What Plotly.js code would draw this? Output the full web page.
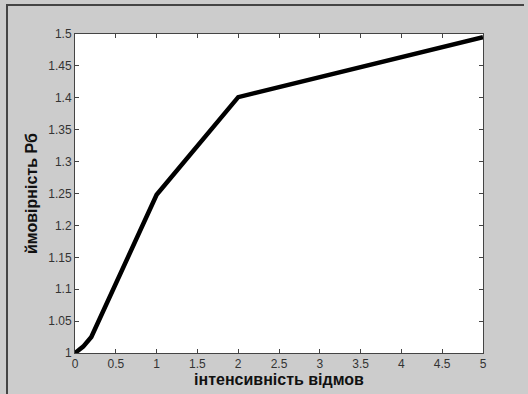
<!DOCTYPE html>
<html>
<head>
<meta charset="utf-8">
<script src="https://cdn.plot.ly/plotly-3.0.1.min.js"></script>
<style>
html,body{margin:0;padding:0;background:#cccccc;overflow:hidden;}
#wrap{position:relative;width:528px;height:394px;overflow:hidden;}
#chart{position:absolute;left:0;top:0;width:528px;height:394px;}
#vline{position:absolute;left:6px;top:4px;width:2px;height:390px;background:#444;pointer-events:none;}
#hline{position:absolute;left:6px;top:4px;width:518px;height:2px;background:#444;pointer-events:none;}
</style>
</head>
<body>
<div id="wrap"><div id="chart"></div><div id="vline"></div><div id="hline"></div></div>
<script>
const intensity = [0, 0.1, 0.2, 0.3, 0.5, 1, 2, 5];
const probability = [1.0, 1.01, 1.025, 1.053, 1.11, 1.248, 1.401, 1.495];
const xTicks = [0, 0.5, 1, 1.5, 2, 2.5, 3, 3.5, 4, 4.5, 5];
const yTicks = [1, 1.05, 1.1, 1.15, 1.2, 1.25, 1.3, 1.35, 1.4, 1.45, 1.5];
const xTitle = 'інтенсивність відмов';
const yTitle = 'ймовірність Рб';

const trace = {
  x: intensity, y: probability, type: 'scatter', mode: 'lines',
  line: {color: '#000', width: 4.5}, hoverinfo: 'skip'
};
const axisCommon = {
  showline: true, linecolor: '#444', linewidth: 1, mirror: 'allticks',
  ticks: 'inside', ticklen: 4, tickcolor: '#444', tickwidth: 1,
  showgrid: false, zeroline: false,
  tickfont: {family: 'Liberation Sans, Arial, sans-serif', size: 12, color: '#333'}
};
const layout = {
  width: 528, height: 394,
  margin: {l: 75, r: 45, t: 34, b: 41},
  paper_bgcolor: '#cccccc', plot_bgcolor: '#ffffff',
  showlegend: false,
  xaxis: Object.assign({}, axisCommon, {
    range: [0, 5], tickvals: xTicks, ticktext: xTicks.map(String),
    ticklabelstandoff: 0,
    title: {text: xTitle, standoff: 3, font: {family: 'Liberation Sans, Arial, sans-serif', size: 16, color: '#111', weight: 'bold'}}
  }),
  yaxis: Object.assign({}, axisCommon, {
    range: [1, 1.5], tickvals: yTicks, ticktext: yTicks.map(String),
    ticklabelstandoff: 0,
    title: {text: yTitle, standoff: 6, font: {family: 'Liberation Sans, Arial, sans-serif', size: 16, color: '#111', weight: 'bold'}}
  })
};
Plotly.newPlot('chart', [trace], layout, {staticPlot: true, displayModeBar: false});
</script>
</body>
</html>
